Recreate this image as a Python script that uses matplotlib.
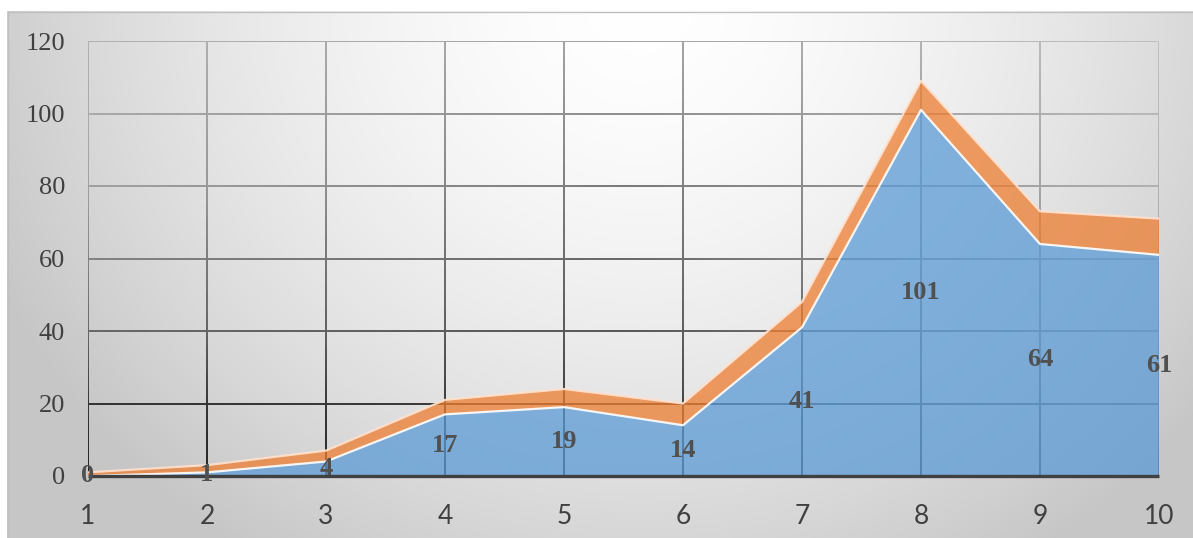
import numpy as np
import matplotlib.pyplot as plt
from matplotlib.collections import LineCollection
from matplotlib.patches import Rectangle

# data
x = [1, 2, 3, 4, 5, 6, 7, 8, 9, 10]
blue = [0, 1, 4, 17, 19, 14, 41, 101, 64, 61]
orange = [1, 2, 3, 4, 5, 6, 7, 8, 9, 10]
y_ticks = [0, 20, 40, 60, 80, 100, 120]

W, H = 1193, 538
fig = plt.figure(figsize=(W / 100, H / 100), dpi=100)

# chart area gradient background
bg = fig.add_axes([0, 0, 1, 1])
bg.set_xlim(0, W)
bg.set_ylim(H, 0)
bg.axis('off')
xx, yy = np.meshgrid(np.arange(W), np.arange(H))
d = np.sqrt(((xx - 640) / 640) ** 2 + (yy / 600) ** 2)
g = np.clip(255 - 48 * d ** 1.6, 198, 255) / 255
img = np.dstack([g, g, g])
img[:11, :] = 1
img[:, :7] = 1
bg.imshow(img, extent=(0, W, H, 0), aspect='auto', interpolation='bilinear')
bg.add_patch(Rectangle((7.5, 11.5), W, H, fill=False, ec='#c0c0c0', lw=1))

ax = fig.add_axes([88 / W, 62 / H, (1159 - 88) / W, (476 - 41) / H])
ax.set_facecolor('none')
ax.set_xlim(1, 10)
ax.set_ylim(0, 120)
for s in ax.spines.values():
    s.set_visible(False)

# gridlines with a shading that changes along the plot
ctrl_s = [0, 0.5, 1]
ctrl_u = np.linspace(0, 1, 7)
ctrl_g = np.array([[32, 48, 102, 128, 160, 168, 176],
                   [40, 60, 85, 102, 119, 140, 160],
                   [80, 120, 150, 170, 176, 184, 192]])


def shade(sx, uy):
    rows = [np.interp(uy, ctrl_u, r) for r in ctrl_g]
    return np.interp(sx, ctrl_s, rows) / 255


segs, cols = [], []
for xv in x:
    ys = np.linspace(0, 120, 80)
    for a, b in zip(ys[:-1], ys[1:]):
        segs.append([(xv, a), (xv, b)])
        c = shade((xv - 1) / 9, (a + b) / 240)
        cols.append((c, c, c))
for yv in y_ticks[1:]:
    xs = np.linspace(1, 10, 200)
    for a, b in zip(xs[:-1], xs[1:]):
        segs.append([(a, yv), (b, yv)])
        c = shade(((a + b) / 2 - 1) / 9, yv / 120)
        cols.append((c, c, c))
ax.add_collection(LineCollection(segs, colors=cols, linewidths=1.4,
                                 zorder=1, capstyle='butt'))

ax.stackplot(x, blue, orange, colors=['#5B9BD5', '#ED7D31'],
             alpha=0.75, lw=0, zorder=2)
total = np.array(blue) + np.array(orange)
ax.plot(x, blue, color='white', lw=1.6, alpha=0.9, zorder=3)
ax.plot(x, total, color='#ffe2cf', lw=1.6, alpha=0.9, zorder=3)

ax.plot([1, 10], [0, 0], color='#404040', lw=2.4, solid_capstyle='butt',
        zorder=4, clip_on=False)

for xv, v in zip(x, blue):
    ax.text(xv, v / 2, str(v), ha='center', va='center', fontsize=19,
            fontweight='bold', family='Liberation Serif', color='#505050',
            zorder=5)

ax.set_xticks(x)
ax.set_xticklabels([str(v) for v in x], family='Lato', fontsize=19,
                   color='#404040')
ax.set_yticks(y_ticks)
ax.set_yticklabels([str(v) for v in y_ticks], family='Liberation Serif',
                   fontsize=19, color='#404040')
ax.tick_params(axis='y', length=0, pad=16.5)
ax.tick_params(axis='x', length=0, pad=20)

fig.savefig('out.png', dpi=100)
